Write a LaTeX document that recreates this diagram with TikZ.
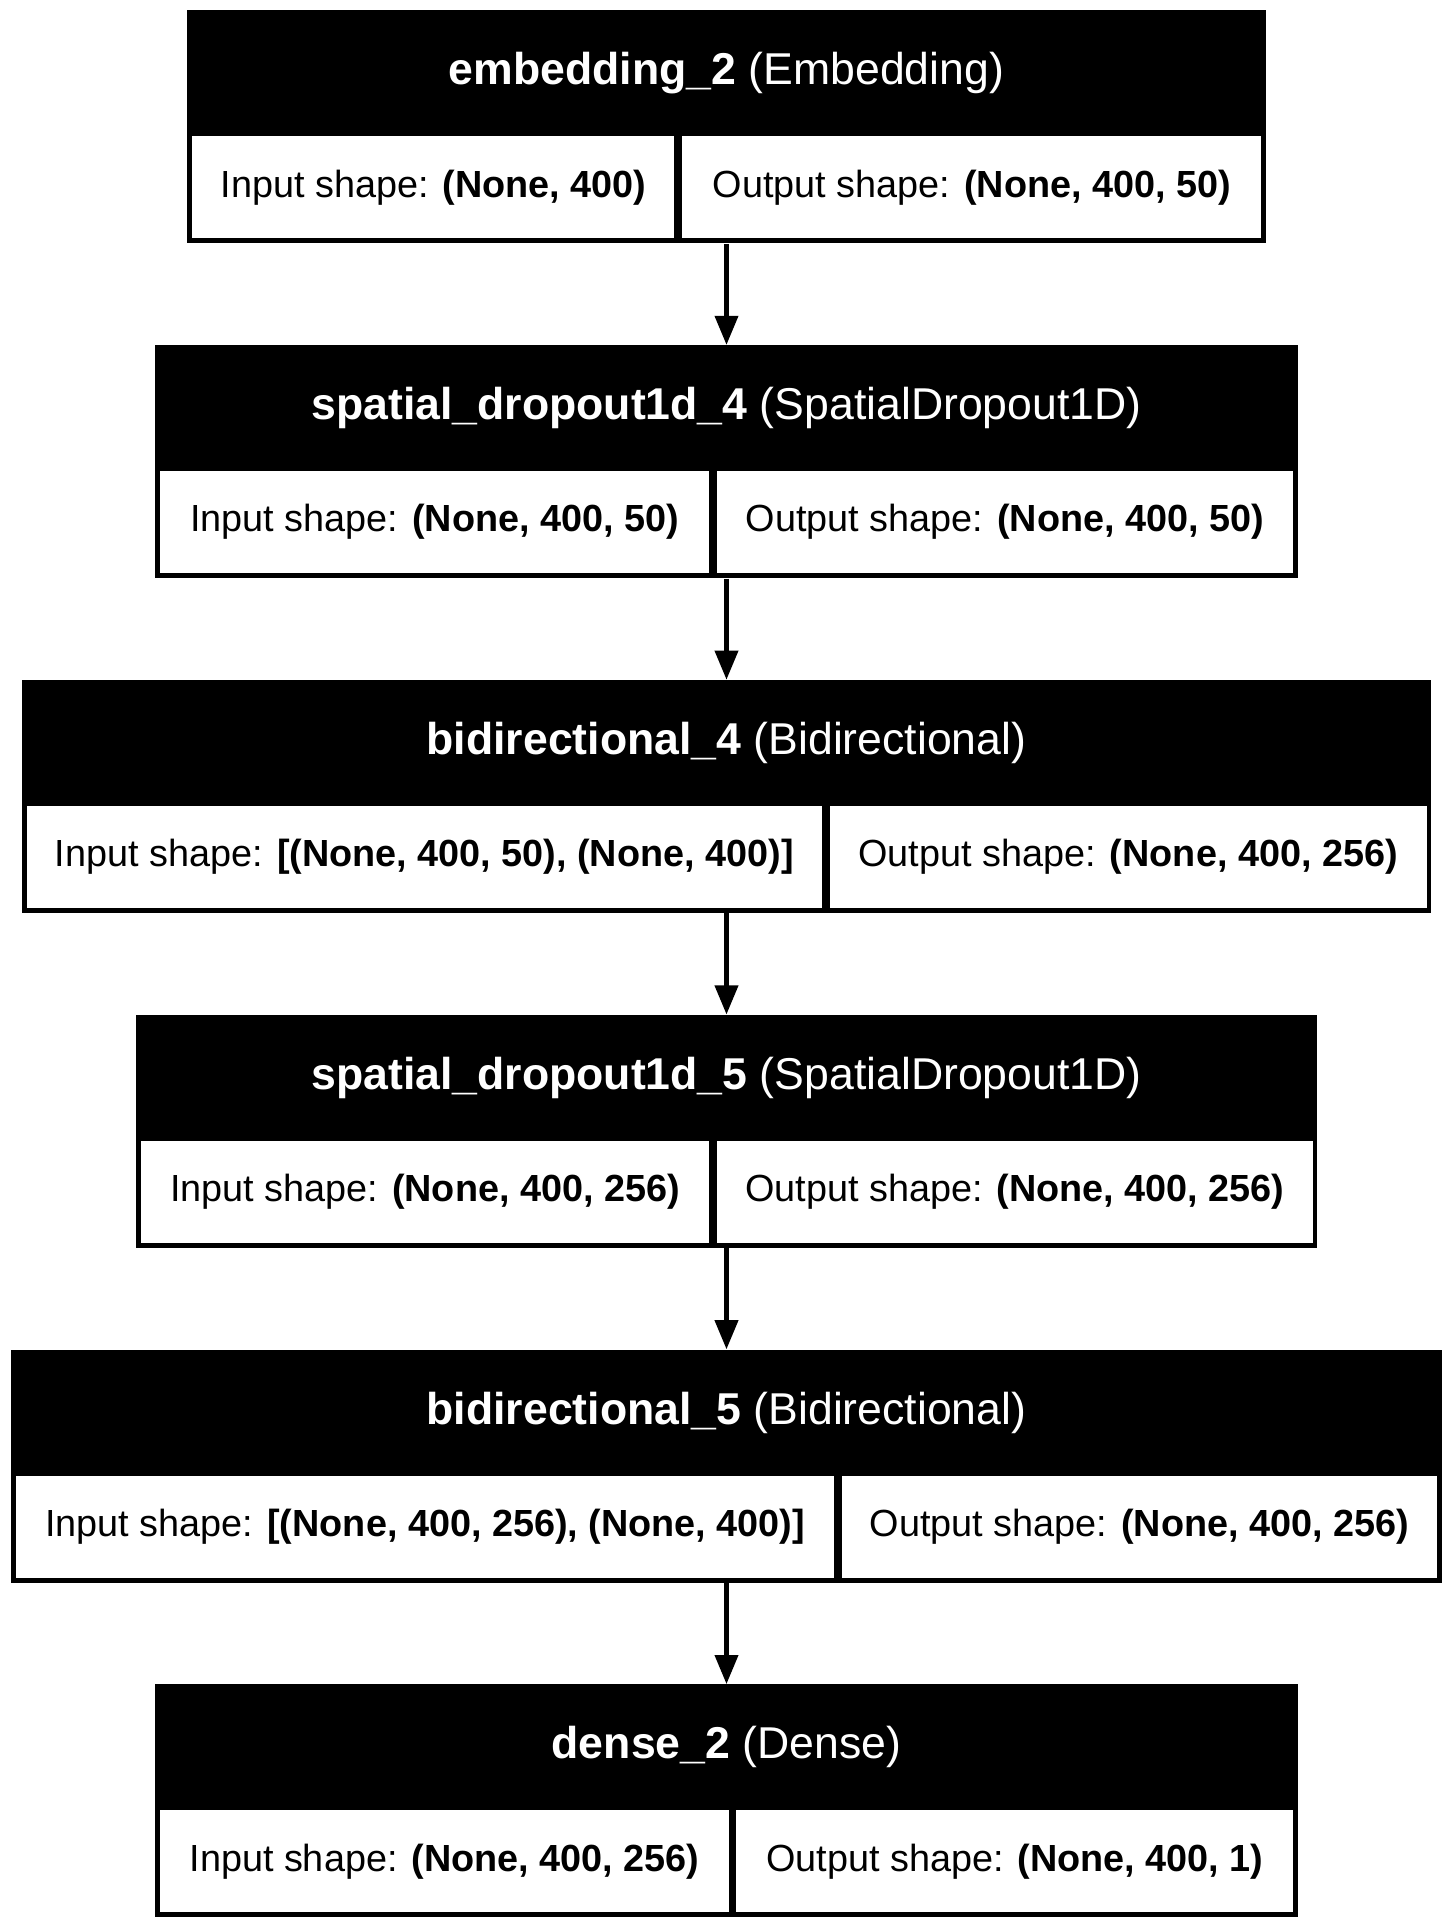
\documentclass[tikz,border=0pt]{standalone}
\usepackage{fontspec}
\setmainfont{Liberation Sans}
\usepackage{tikz}
\usetikzlibrary{arrows.meta, positioning, calc}
\tikzset{
  layerbox/.style={rectangle, fill=black, inner sep=0pt,
    minimum height=116.5pt},
  hdrtext/.style={rectangle, text=white, inner sep=0pt,
    minimum height=63pt, font=\fontsize{22.3}{26}\selectfont},
  shapecell/.style={rectangle, fill=white, inner sep=0pt,
    minimum height=51pt, font=\fontsize{18.9}{22}\selectfont},
  arrow/.style={-{Triangle[length=14.5pt, width=11.5pt]}, line width=2pt, color=black}
}

\begin{document}
\begin{tikzpicture}[x=1pt, y=1pt]
  \useasboundingbox (-363.25,0) rectangle (363.25,-961);

  % Layers
  \node[layerbox, minimum width=539pt, anchor=north] (emb) at (0,-5) {};
  \node[hdrtext, below=0pt of emb.north] (emb_t) {\textbf{embedding\_2} (Embedding)};
  \node[shapecell, minimum width=241pt, anchor=north west] (emb_in) at ($(emb.north west)+(2.5,-63)$) {Input shape: \textbf{(None, 400)}};
  \node[shapecell, minimum width=289.5pt, right=3.5pt of emb_in] (emb_out) {Output shape: \textbf{(None, 400, 50)}};

  \node[layerbox, minimum width=571pt, below=50.5pt of emb] (sdo4) {};
  \node[hdrtext, below=0pt of sdo4.north] (sdo4_t) {\textbf{spatial\_dropout1d\_4} (SpatialDropout1D)};
  \node[shapecell, minimum width=274.25pt, anchor=north west] (sdo4_in) at ($(sdo4.north west)+(2.5,-63)$) {Input shape: \textbf{(None, 400, 50)}};
  \node[shapecell, minimum width=288.25pt, right=3.5pt of sdo4_in] (sdo4_out) {Output shape: \textbf{(None, 400, 50)}};

  \node[layerbox, minimum width=704.5pt, below=50.5pt of sdo4] (bidi4) {};
  \node[hdrtext, below=0pt of bidi4.north] (bidi4_t) {\textbf{bidirectional\_4} (Bidirectional)};
  \node[shapecell, minimum width=397.35pt, anchor=north west] (bidi4_in) at ($(bidi4.north west)+(2.5,-63)$) {Input shape: \textbf{[(None, 400, 50), (None, 400)]}};
  \node[shapecell, minimum width=298.65pt, right=3.5pt of bidi4_in] (bidi4_out) {Output shape: \textbf{(None, 400, 256)}};

  \node[layerbox, minimum width=590.5pt, below=50.5pt of bidi4] (sdo5) {};
  \node[hdrtext, below=0pt of sdo5.north] (sdo5_t) {\textbf{spatial\_dropout1d\_5} (SpatialDropout1D)};
  \node[shapecell, minimum width=284pt, anchor=north west] (sdo5_in) at ($(sdo5.north west)+(2.5,-63)$) {Input shape: \textbf{(None, 400, 256)}};
  \node[shapecell, minimum width=298pt, right=3.5pt of sdo5_in] (sdo5_out) {Output shape: \textbf{(None, 400, 256)}};

  \node[layerbox, minimum width=715pt, below=50.5pt of sdo5] (bidi5) {};
  \node[hdrtext, below=0pt of bidi5.north] (bidi5_t) {\textbf{bidirectional\_5} (Bidirectional)};
  \node[shapecell, minimum width=408.75pt, anchor=north west] (bidi5_in) at ($(bidi5.north west)+(2.5,-63)$) {Input shape: \textbf{[(None, 400, 256), (None, 400)]}};
  \node[shapecell, minimum width=297.75pt, right=3.5pt of bidi5_in] (bidi5_out) {Output shape: \textbf{(None, 400, 256)}};

  \node[layerbox, minimum width=571pt, below=50.5pt of bidi5] (dense) {};
  \node[hdrtext, below=0pt of dense.north] (dense_t) {\textbf{dense\_2} (Dense)};
  \node[shapecell, minimum width=284pt, anchor=north west] (dense_in) at ($(dense.north west)+(2.5,-63)$) {Input shape: \textbf{(None, 400, 256)}};
  \node[shapecell, minimum width=278.5pt, right=3.5pt of dense_in] (dense_out) {Output shape: \textbf{(None, 400, 1)}};

  % Arrows
  \draw[arrow] (emb.south) -- (sdo4.north);
  \draw[arrow] (sdo4.south) -- (bidi4.north);
  \draw[arrow] (bidi4.south) -- (sdo5.north);
  \draw[arrow] (sdo5.south) -- (bidi5.north);
  \draw[arrow] (bidi5.south) -- (dense.north);
\end{tikzpicture}
\end{document}
